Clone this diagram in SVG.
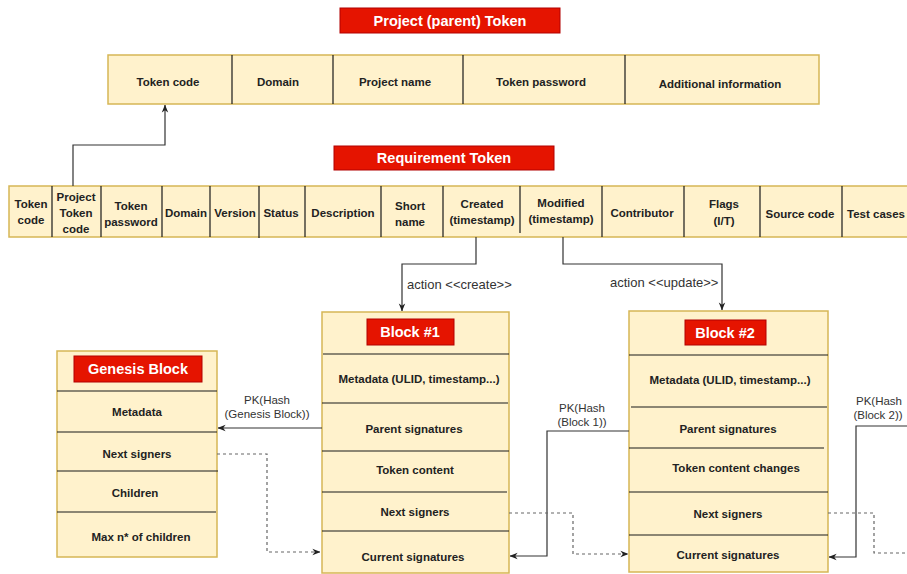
<svg xmlns="http://www.w3.org/2000/svg" width="907" height="574" viewBox="0 0 907 574">
<style>
.cell{fill:#fff2cc;stroke:#d6b656;stroke-width:1.5}
.red{fill:#e51400;stroke:#b20000;stroke-width:1}
.div{stroke:#1a1a1a;stroke-width:1.2;fill:none}
.t{font-family:"Liberation Sans",Arial,sans-serif;font-size:11.5px;font-weight:bold;fill:#222;text-anchor:middle;dominant-baseline:central}
.h{font-family:"Liberation Sans",Arial,sans-serif;font-size:14.5px;font-weight:bold;fill:#fff;text-anchor:middle;dominant-baseline:central}
.l{font-family:"Liberation Sans",Arial,sans-serif;font-size:11.5px;fill:#333;text-anchor:middle;dominant-baseline:central}
.a{font-family:"Liberation Sans",Arial,sans-serif;font-size:13px;fill:#333;dominant-baseline:central}
.c{stroke:#333;stroke-width:1.2;fill:none}
.d{stroke:#666;stroke-width:1.2;fill:none;stroke-dasharray:3 3}
</style>
<defs>
<marker id="arr" viewBox="0 0 10 10" refX="9.5" refY="5" markerWidth="8" markerHeight="8" orient="auto" markerUnits="userSpaceOnUse">
<path d="M0,1 L10,5 L0,9 L3,5 z" fill="#222"/>
</marker>
</defs>
<rect width="907" height="574" fill="#fff"/>

<g id="project-token-title">
<rect class="red" x="340" y="8" width="220" height="25"/>
<text class="h" x="450" y="20.5">Project (parent) Token</text>
</g>

<g id="project-token">
<rect class="cell" x="108" y="55" width="711" height="49"/>
<path class="div" d="M232,55V104M333,55V104M463,55V104M625,55V104"/>
<text class="t" x="168" y="82">Token code</text>
<text class="t" x="278" y="82">Domain</text>
<text class="t" x="395" y="82">Project name</text>
<text class="t" x="541" y="82">Token password</text>
<text class="t" x="720" y="84">Additional information</text>
</g>

<g id="requirement-token-title">
<rect class="red" x="334" y="146" width="220" height="24"/>
<text class="h" x="444" y="158">Requirement Token</text>
</g>

<g id="requirement-token">
<rect class="cell" x="9" y="186" width="904" height="51"/>
<path class="div" d="M52,186V237M101,186V237M162,186V237M210,186V237M259,186V238M305,186V237M381,186V237M443,186V237M520,186V233M602,186V237M684,186V237M760,186V237M842,186V237"/>
<text class="t" x="31" y="204">Token</text><text class="t" x="31" y="220">code</text>
<text class="t" x="76" y="197">Project</text><text class="t" x="76" y="213">Token</text><text class="t" x="76" y="229">code</text>
<text class="t" x="131" y="206">Token</text><text class="t" x="131" y="222">password</text>
<text class="t" x="186" y="213">Domain</text>
<text class="t" x="235" y="213">Version</text>
<text class="t" x="281" y="213">Status</text>
<text class="t" x="343" y="213">Description</text>
<text class="t" x="410" y="206">Short</text><text class="t" x="410" y="222">name</text>
<text class="t" x="482" y="204">Created</text><text class="t" x="482" y="220">(timestamp)</text>
<text class="t" x="561" y="203">Modified</text><text class="t" x="561" y="219">(timestamp)</text>
<text class="t" x="642" y="213">Contributor</text>
<text class="t" x="724" y="204">Flags</text><text class="t" x="724" y="221">(I/T)</text>
<text class="t" x="800" y="214">Source code</text>
<text class="t" x="876" y="214">Test cases</text>
</g>

<g id="genesis-block">
<rect class="cell" x="57" y="351" width="160" height="206"/>
<rect class="red" x="74" y="356" width="128" height="26"/>
<text class="h" x="138" y="369">Genesis Block</text>
<path class="div" d="M57,391H217M57,432H217M57,471H218M57,512H216"/>
<text class="t" x="137" y="412">Metadata</text>
<text class="t" x="137" y="454">Next signers</text>
<text class="t" x="135" y="493">Children</text>
<text class="t" x="141" y="537">Max n* of children</text>
</g>

<g id="block-1">
<rect class="cell" x="322" y="312" width="187" height="261"/>
<rect class="red" x="367" y="319" width="87" height="26"/>
<text class="h" x="410" y="332">Block #1</text>
<path class="div" d="M323,354H509M322,403H508M322,451H509M322,492H507M322,531H509"/>
<text class="t" x="419" y="379">Metadata (ULID, timestamp...)</text>
<text class="t" x="414" y="429">Parent signatures</text>
<text class="t" x="415" y="470">Token content</text>
<text class="t" x="415" y="512">Next signers</text>
<text class="t" x="413" y="557">Current signatures</text>
</g>

<g id="block-2">
<rect class="cell" x="629" y="311" width="199" height="261"/>
<rect class="red" x="685" y="320" width="81" height="25"/>
<text class="h" x="725" y="332.5">Block #2</text>
<path class="div" d="M629,355H828M631,407H827M629,448H824M629,492H828M629,535H828"/>
<text class="t" x="730" y="380">Metadata (ULID, timestamp...)</text>
<text class="t" x="728" y="429">Parent signatures</text>
<text class="t" x="736" y="468">Token content changes</text>
<text class="t" x="728" y="514">Next signers</text>
<text class="t" x="728" y="555">Current signatures</text>
</g>

<g id="connectors">
<path class="c" d="M73,186V145H165V105" marker-end="url(#arr)"/>
<path class="c" d="M476,237V264H402V311" marker-end="url(#arr)"/>
<text class="a" x="407" y="284">action &lt;&lt;create&gt;&gt;</text>
<path class="c" d="M563,237V264H722V310" marker-end="url(#arr)"/>
<text class="a" x="610" y="282">action &lt;&lt;update&gt;&gt;</text>
<path class="c" d="M322,428H218" marker-end="url(#arr)"/>
<text class="l" x="267" y="400">PK(Hash</text>
<text class="l" x="267" y="414">(Genesis Block))</text>
<path class="d" d="M217,454H267V552H320" marker-end="url(#arr)"/>
<path class="c" d="M629,431H547V556H510" marker-end="url(#arr)"/>
<text class="l" x="582" y="408">PK(Hash</text>
<text class="l" x="582" y="422">(Block 1))</text>
<path class="d" d="M509,513H573V554H628" marker-end="url(#arr)"/>
<path class="c" d="M910,426H856V557H829" marker-end="url(#arr)"/>
<text class="l" x="879" y="401">PK(Hash</text>
<text class="l" x="878" y="415">(Block 2))</text>
<path class="d" d="M828,513H874V553H915"/>
</g>
</svg>
